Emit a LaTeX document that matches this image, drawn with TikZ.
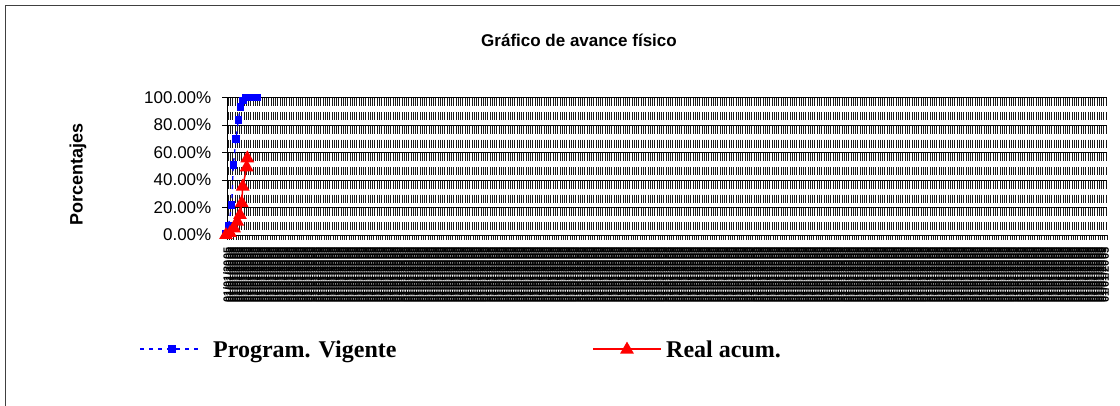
\documentclass[tikz,border=0pt]{standalone}
\usepackage{fontspec}
\setmainfont{Liberation Sans}
\newfontfamily\timesfont{Liberation Serif}
\usetikzlibrary{shapes.geometric}
\begin{document}
\begin{tikzpicture}[x=1pt,y=-1pt,
  frame/.style={line width=1.3pt, black!75},
  gridl/.style={line width=0.9pt, black},
  stripe/.style={line width=0.6pt, black!90, dash pattern=on 8pt off 5.75pt},
  xtick/.style={line width=0.6pt, black!90},
  ticklab/.style={anchor=east, inner sep=0, font=\fontsize{17}{19}\selectfont},
  catlab/.style={rotate=90, anchor=east, inner sep=0, font=\bfseries\fontsize{11}{13}\selectfont},
  bluesq/.style={rectangle, fill=blue, draw=none, minimum size=7.5pt, inner sep=0},
  redtri/.style={regular polygon, regular polygon sides=3, fill=red, draw=none, inner sep=0, minimum size=16pt},
  blueline/.style={blue, line width=1.3pt, dash pattern=on 4pt off 5pt},
  redline/.style={red, line width=1.5pt},
  legtext/.style={anchor=base west, inner sep=0, font=\timesfont\bfseries\fontsize{24}{26}\selectfont}
]
\useasboundingbox (0,0) rectangle (1120,406);
\fill[white] (0,0) rectangle (1120,406);
% chart frame (top and left edges visible)
\draw[frame] (5.5,406) -- (5.5,5.5) -- (1120,5.5);
% title
\node[font=\bfseries\fontsize{17}{19}\selectfont] (title) at (579,40) {Gráfico de avance físico};
% y axis title
\node[rotate=90, font=\bfseries\fontsize{18}{20}\selectfont] (ylab) at (78,174.5) {Porcentajes};
% vertical stripes
\foreach \i in {0,...,389} {
  \draw[stripe] ({227+(\i+0.5)*2.2564},98.5) -- ({227+(\i+0.5)*2.2564},235);
}
% x ticks
\foreach \i in {0,...,390} {
  \draw[xtick] ({227+\i*2.2564},235) -- ({227+\i*2.2564},240);
}
% gridlines, y ticks, y labels
\foreach \v in {0,20,40,60,80,100} {
  \draw[gridl] (222,{235-\v*1.375}) -- (1107,{235-\v*1.375});
  \node[ticklab] (yl\v) at (211.5,{235-\v*1.375}) {\v.00\%};
}
\draw[gridl] (227,97.5) -- (227,235);
% category labels
\foreach \i in {0,...,389} {
  \node[catlab] (c\i) at ({226+(\i+0.5)*2.2564},247.5) {01/01/2005};
}
% blue series
\coordinate (b0) at (226,233.5);
\coordinate (b1) at (228.5,225.5);
\coordinate (b2) at (231.7,205);
\coordinate (b3) at (233.3,165);
\coordinate (b4) at (236,139);
\coordinate (b5) at (238.3,120);
\coordinate (b6) at (240.3,107);
\coordinate (b7) at (243,100.5);
\coordinate (b8) at (245.5,97.5);
\coordinate (b9) at (248,97.5);
\coordinate (b10) at (250.5,97.5);
\coordinate (b11) at (253,97.5);
\coordinate (b12) at (255.5,97.5);
\coordinate (b13) at (257.5,97.5);
\draw[blueline] (b0) -- (b1) -- (b2) -- (b3) -- (b4) -- (b5) -- (b6) -- (b7) -- (b8) -- (b9) -- (b10) -- (b11) -- (b12) -- (b13);
\foreach \k in {0,...,13} { \node[bluesq] (bm\k) at (b\k) {}; }
% red series
\coordinate (r0) at (226,235);
\coordinate (r1) at (230,233);
\coordinate (r2) at (234,228.3);
\coordinate (r3) at (237.3,221.7);
\coordinate (r4) at (240,215);
\coordinate (r5) at (241.7,203);
\coordinate (r6) at (242.7,186.7);
\coordinate (r7) at (246.7,167.3);
\coordinate (r8) at (247.3,158.3);
\draw[redline] (r0) -- (r1) -- (r2) -- (r3) -- (r4) -- (r5) -- (r6) -- (r7) -- (r8);
\foreach \k in {0,...,8} { \node[redtri] (rm\k) at (r\k) {}; }
% legend
\coordinate (lb1) at (140,349);
\coordinate (lb2) at (202,349);
\draw[blueline] (lb1) -- (lb2);
\node[bluesq] (lbm) at (172,349) {};
\node[legtext] (lbt) at (213,357) {Program. Vigente};
\coordinate (lr1) at (593,349);
\coordinate (lr2) at (661,349);
\draw[redline] (lr1) -- (lr2);
\node[redtri] (lrm) at (627,349.6) {};
\node[legtext] (lrt) at (666,357) {Real acum.};
\end{tikzpicture}
\end{document}
